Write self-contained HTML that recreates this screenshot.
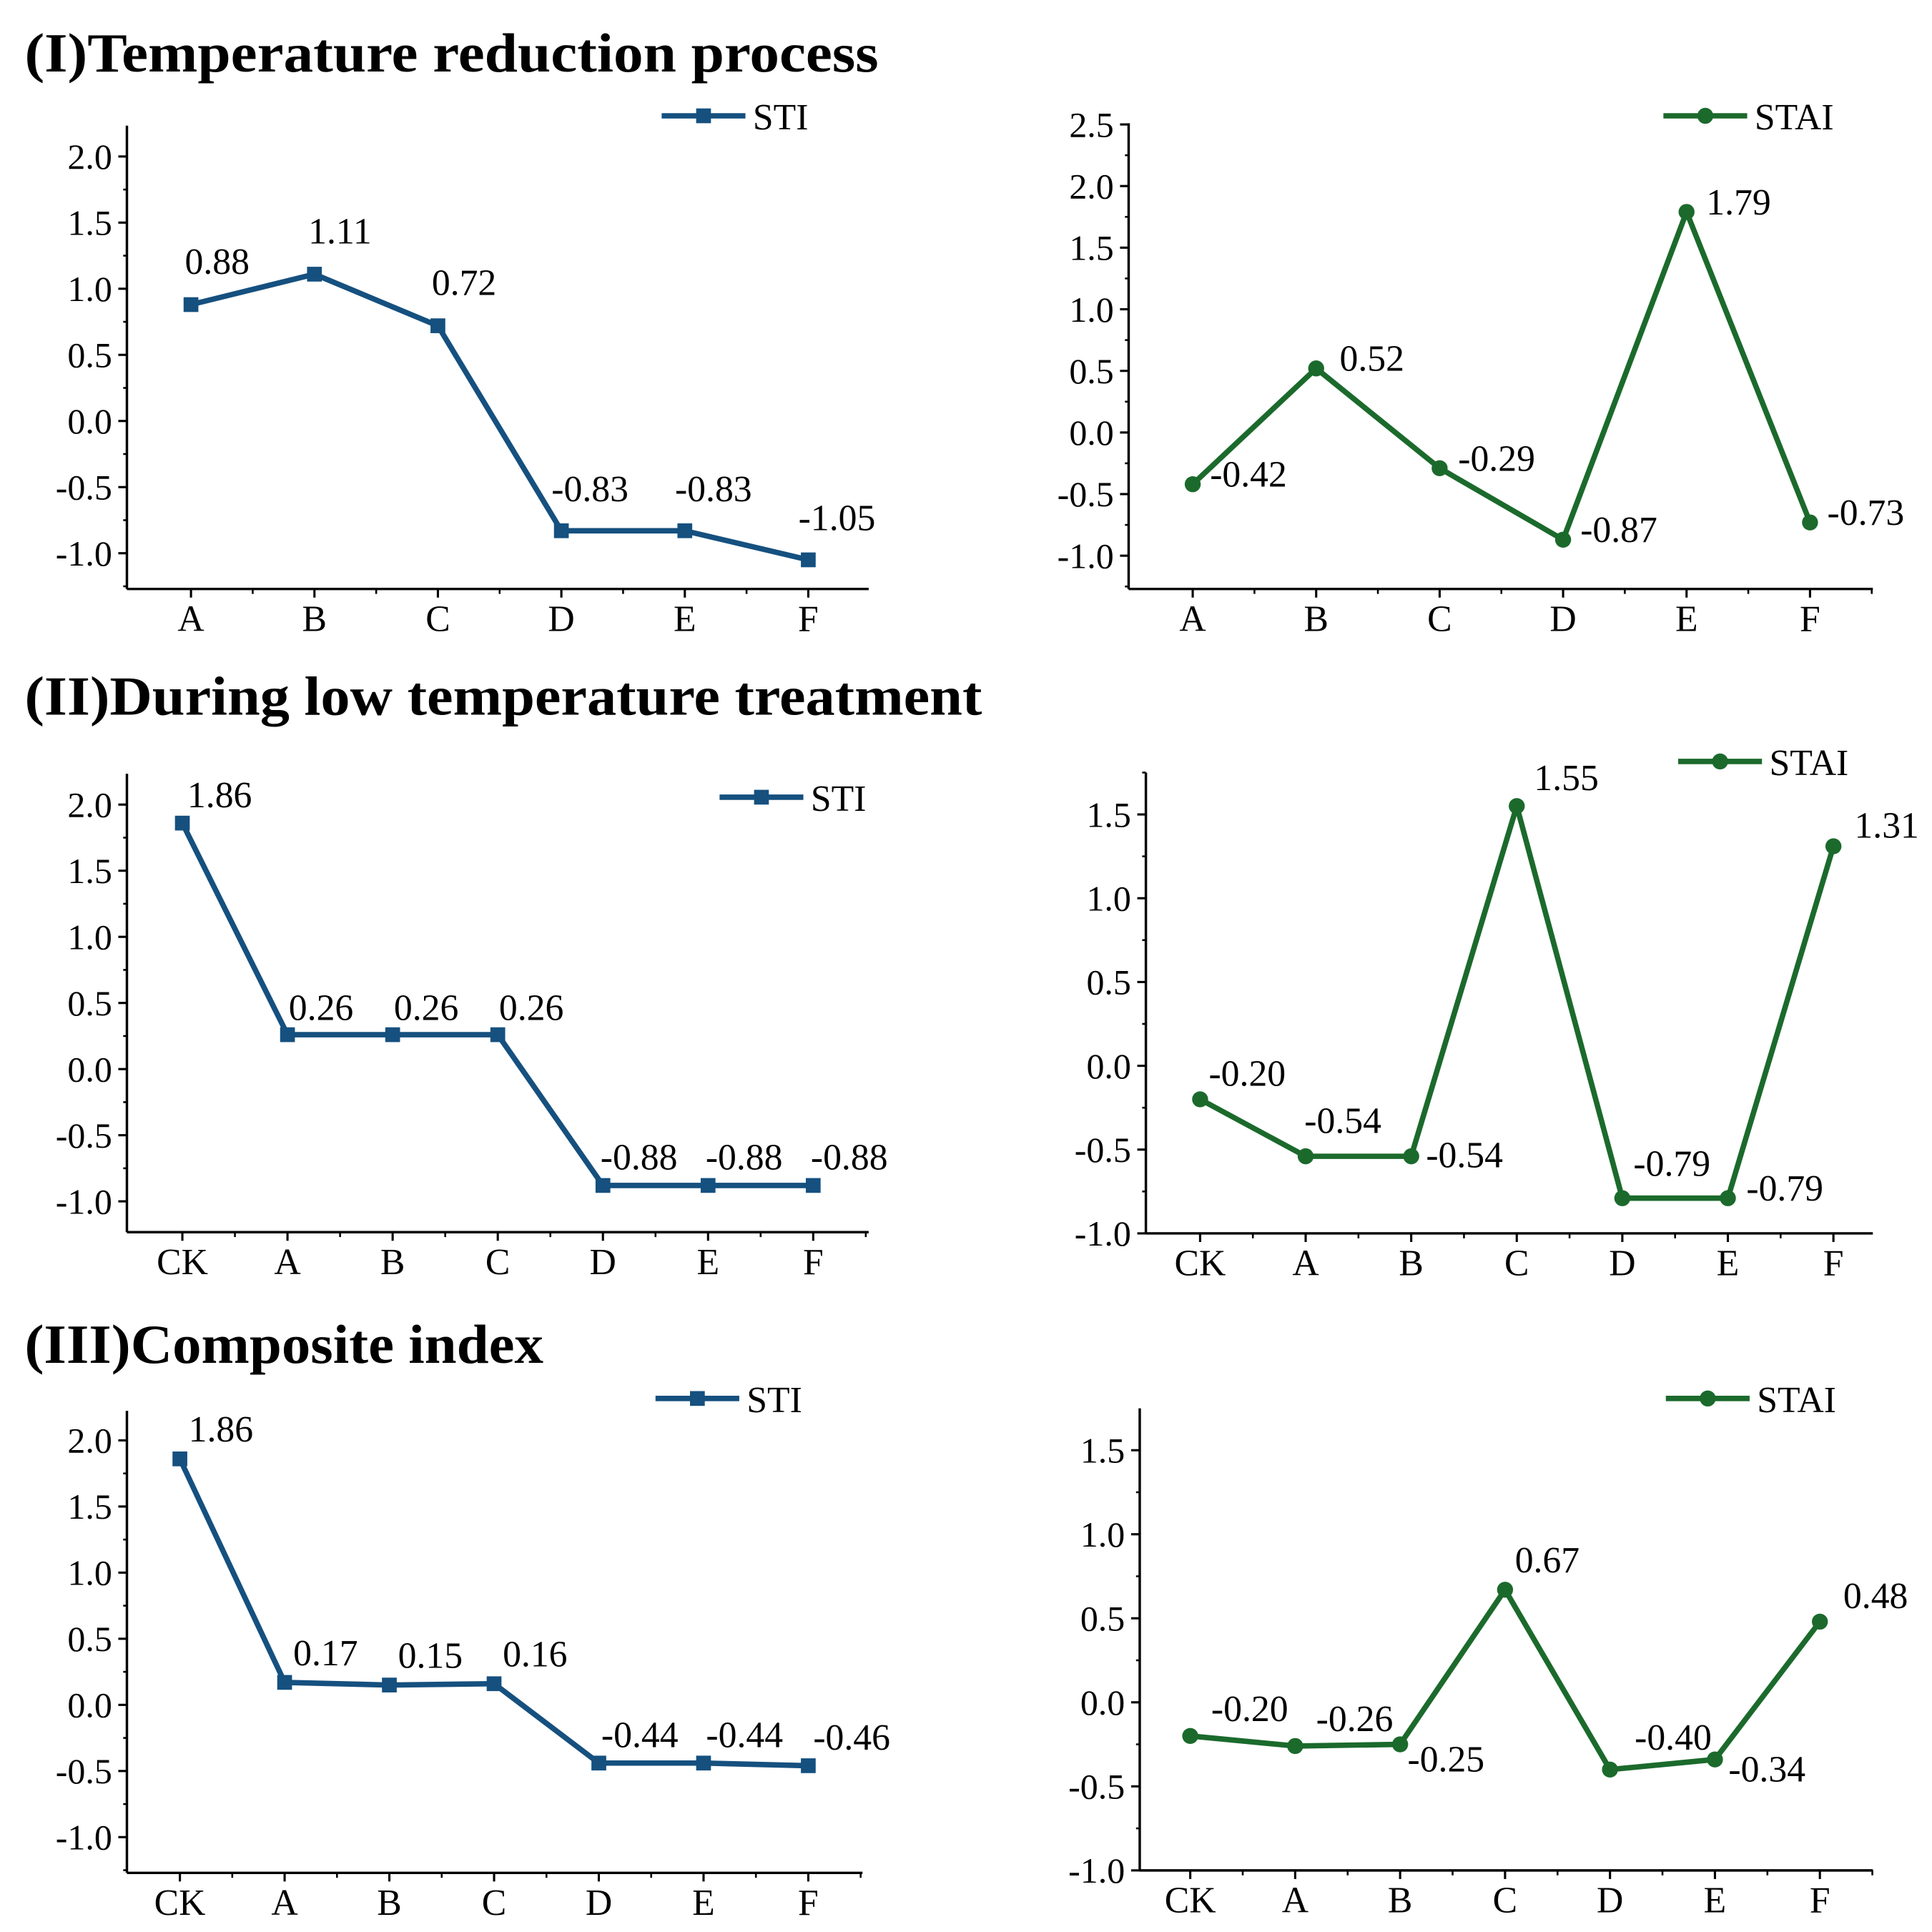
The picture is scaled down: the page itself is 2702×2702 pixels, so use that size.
<!DOCTYPE html>
<html><head><meta charset="utf-8"><style>
html,body{margin:0;padding:0;background:#fff}
svg{display:block}
text{font-family:"Liberation Serif",serif;fill:#000}
</style></head><body>
<svg id="fig" width="2702" height="2702" viewBox="0 0 1568 1568" xmlns="http://www.w3.org/2000/svg">
<text x="20" y="58" font-size="45" font-weight="bold" textLength="693" lengthAdjust="spacingAndGlyphs">(I)Temperature reduction process</text>
<text x="20" y="580" font-size="45" font-weight="bold" textLength="777" lengthAdjust="spacingAndGlyphs">(II)During low temperature treatment</text>
<text x="20" y="1106" font-size="45" font-weight="bold" textLength="421" lengthAdjust="spacingAndGlyphs">(III)Composite index</text>
</svg>
<script>
// ---- data ----
const cats6 = ['A','B','C','D','E','F'];
const cats7 = ['CK','A','B','C','D','E','F'];
const sti1 = [0.88, 1.11, 0.72, -0.83, -0.83, -1.05];
const stai1 = [-0.42, 0.52, -0.29, -0.87, 1.79, -0.73];
const sti2 = [1.86, 0.26, 0.26, 0.26, -0.88, -0.88, -0.88];
const stai2 = [-0.20, -0.54, -0.54, 1.55, -0.79, -0.79, 1.31];
const sti3 = [1.86, 0.17, 0.15, 0.16, -0.44, -0.44, -0.46];
const stai3 = [-0.20, -0.26, -0.25, 0.67, -0.40, -0.34, 0.48];
const ticksA = [2.0, 1.5, 1.0, 0.5, 0.0, -0.5, -1.0];
const ticksB = [2.5, 2.0, 1.5, 1.0, 0.5, 0.0, -0.5, -1.0];
const ticksC = [1.5, 1.0, 0.5, 0.0, -0.5, -1.0];

const svg = document.getElementById('fig');
const NS = 'http://www.w3.org/2000/svg';
function mk(tag, attrs, parent){
  const e = document.createElementNS(NS, tag);
  for (const k in attrs) e.setAttribute(k, attrs[k]);
  (parent||svg).appendChild(e); return e;
}
const BLUE = '#15507f', GREEN = '#1b6a2c';

const panels = [
 {name:'stress-index-reduction', cats:cats6, vals:sti1, ticks:ticksA, ax:103, top:102, bot:478, right:705, vTop:2.0, yTop:127, vBot:-1.0, yBot:449, x0:155, x1:656, color:BLUE, marker:'square', leg:[537,94,'STI'],
  off:[[-5,-25],[-5,-25],[-5,-25],[-8,-24],[-8,-24],[-8,-24]]},
 {name:'tolerance-index-reduction', cats:cats6, vals:stai1, ticks:ticksB, ax:916, top:100, bot:478, right:1520, vTop:2.5, yTop:101, vBot:-1.0, yBot:451, x0:968, x1:1469, color:GREEN, marker:'circle', leg:[1350,94,'STAI'],
  off:[[14,2],[19,2],[15,2],[14,2],[16,2],[14,2]]},
 {name:'stress-index-low-temp', cats:cats7, vals:sti2, ticks:ticksA, ax:103, top:628, bot:1000, right:705, vTop:2.0, yTop:653, vBot:-1.0, yBot:975, x0:148, x1:660, color:BLUE, marker:'square', leg:[584,647,'STI'],
  off:[[4,-13],[1,-12],[1,-12],[1,-12],[-2,-13],[-2,-13],[-2,-13]]},
 {name:'tolerance-index-low-temp', cats:cats7, vals:stai2, ticks:ticksC, ax:930, top:627, bot:1001, right:1520, vTop:1.5, yTop:661, vBot:-1.0, yBot:1001, x0:974, x1:1488, color:GREEN, marker:'circle', leg:[1362,618,'STAI'],
  off:[[7,-11],[-1,-19],[12,9],[14,-13],[9,-18],[15,2],[17,-7]]},
 {name:'stress-index-composite', cats:cats7, vals:sti3, ticks:ticksA, ax:103, top:1145, bot:1520, right:700, vTop:2.0, yTop:1169, vBot:-1.0, yBot:1491, x0:146, x1:656, color:BLUE, marker:'square', leg:[532,1135,'STI'],
  off:[[7,-14],[7,-14],[7,-14],[7,-14],[2,-13],[2,-13],[4,-13]]},
 {name:'tolerance-index-composite', cats:cats7, vals:stai3, ticks:ticksC, ax:925, top:1143, bot:1518, right:1520, vTop:1.5, yTop:1177, vBot:-1.0, yBot:1518, x0:966, x1:1477, color:GREEN, marker:'circle', leg:[1352,1135,'STAI'],
  off:[[17,-12],[17,-12],[6,22],[8,-14],[20,-16],[11,18],[19,-11]]}
];

function drawMarker(g, kind, x, y, color){
  let m;
  if (kind === 'square') m = mk('rect', {x:x-6, y:y-6, width:12, height:12, fill:color}, g);
  else m = mk('circle', {cx:x, cy:y, r:6.5, fill:color}, g);
  return m;
}

panels.forEach(p => {
  const g = mk('g', {});
  
  
  const yS = v => p.yTop + (p.vTop - v) * (p.yBot - p.yTop) / (p.vTop - p.vBot);
  const step = (p.x1 - p.x0) / (p.cats.length - 1);
  const xS = i => p.x0 + i * step;
  const ya = mk('line', {x1:p.ax, y1:p.top, x2:p.ax, y2:p.bot, stroke:'#000', 'stroke-width':2}, g);
  
  
  const xa = mk('line', {x1:p.ax, y1:p.bot, x2:p.right, y2:p.bot, stroke:'#000', 'stroke-width':2}, g);
  
  
  const unitPx = (p.yBot - p.yTop) / (p.vTop - p.vBot);
  for (let y = p.yTop - Math.floor((p.yTop - p.top) / (unitPx/4)) * unitPx/4; y <= p.bot + 0.5; y += unitPx/4) {
    mk('line', {x1:p.ax-3, y1:y, x2:p.ax, y2:y, stroke:'#000', 'stroke-width':1.5}, g);
  }
  p.ticks.forEach(t => {
    const y = yS(t);
    mk('line', {x1:p.ax-7, y1:y, x2:p.ax, y2:y, stroke:'#000', 'stroke-width':1.8}, g);
    const tl = mk('text', {x:p.ax-12, y:y+10, 'font-size':29, 'text-anchor':'end'}, g);
    tl.textContent = t.toFixed(1);
    
    
  });
  p.cats.forEach((c, i) => {
    const x = xS(i);
    mk('line', {x1:x, y1:p.bot, x2:x, y2:p.bot+7, stroke:'#000', 'stroke-width':1.8}, g);
    if (i < p.cats.length - 1 || x + step/2 < p.right)
      mk('line', {x1:x+step/2, y1:p.bot, x2:x+step/2, y2:p.bot+4, stroke:'#000', 'stroke-width':1.5}, g);
    const xl = mk('text', {x:x, y:p.bot+34, 'font-size':30, 'text-anchor':'middle'}, g);
    xl.textContent = c;
    
    
  });
  const pts = p.vals.map((v, i) => xS(i) + ',' + yS(v)).join(' ');
  const line = mk('polyline', {points:pts, fill:'none', stroke:p.color, 'stroke-width':4.4, 'stroke-linejoin':'round'}, g);
  
  
  p.vals.forEach((v, i) => {
    const m = drawMarker(g, p.marker, xS(i), yS(v), p.color);
    
    
    const o = p.off[i];
    const lb = mk('text', {x:xS(i)+o[0], y:yS(v)+o[1], 'font-size':30}, g);
    lb.textContent = v.toFixed(2);
    
    
  });
  const lg = mk('g', {}, g);
  
  
  const [lx, ly, lt] = p.leg;
  mk('line', {x1:lx, y1:ly, x2:lx+68, y2:ly, stroke:p.color, 'stroke-width':4.4}, lg);
  drawMarker(lg, p.marker, lx+34, ly, p.color);
  const ltx = mk('text', {x:lx+74, y:ly+11, 'font-size':30}, lg);
  ltx.textContent = lt;
});
</script>
</body></html>
